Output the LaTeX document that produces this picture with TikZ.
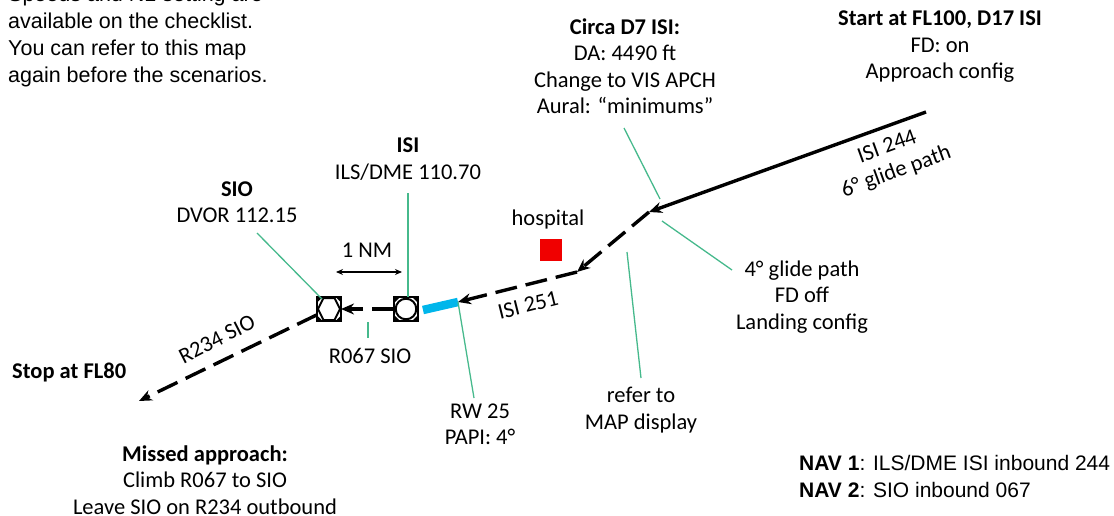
\documentclass[tikz,border=0pt]{standalone}
\usepackage{fontspec}
\setmainfont{Carlito}
\newfontfamily\arialf{Liberation Sans}
\usetikzlibrary{arrows.meta}
\definecolor{leadgreen}{RGB}{70,185,140}
\definecolor{rwcyan}{RGB}{0,182,235}
\definecolor{hosred}{RGB}{240,0,0}
\begin{document}
\begin{tikzpicture}[x=1pt,y=-1pt,
  lbl/.style={inner sep=0pt, align=center, font=\fontsize{22.5}{26.5}\selectfont},
  leader/.style={draw=leadgreen, line width=1.3pt},
  route/.style={line width=3.4pt},
  rdash/.style={route, dash pattern=on 22pt off 9pt},
  tip/.style={-{Stealth[length=13pt,width=11pt]}},
  navbox/.style={minimum size=24pt, inner sep=0pt, outer sep=0pt},
  ilsbox/.pic={
    \draw[line width=2.2pt] (-12,-12) rectangle (12,12);
    \draw[line width=2pt] (0,0) circle (10.3pt);
    \foreach \sx/\sy in {1/1,1/-1,-1/1,-1/-1}
      \fill (\sx*12,\sy*12) -- (\sx*6,\sy*12) -- (\sx*12,\sy*6) -- cycle;
  },
  vorbox/.pic={
    \draw[line width=2.2pt] (-12,-12) rectangle (12,12);
    \draw[line width=2pt] (-11,0) -- (-5.5,-11) -- (5.5,-11) -- (11,0) -- (5.5,11) -- (-5.5,11) -- cycle;
    \foreach \sx/\sy in {1/1,1/-1,-1/1,-1/-1}
      \fill (\sx*12,\sy*12) -- (\sx*6.5,\sy*12) -- (\sx*12,\sy*6.5) -- cycle;
  },
]
\useasboundingbox (0,0) rectangle (1114,516);

% top-left note (first line cut by the page edge)
\node[inner sep=0pt, align=left, anchor=west, font=\arialf\fontsize{21.5}{27}\selectfont] (note) at (8,36.5)
  {Speeds and N1 setting are\\available on the checklist.\\You can refer to this map\\again before the scenarios.};

% route points
\coordinate (start) at (926,112);
\coordinate (p1) at (649,212);
\coordinate (p2) at (577,272);
\coordinate (rwE) at (458,302);
\coordinate (rwW) at (423,310);
\coordinate (stopend) at (139,401);

% navaids
\node[navbox] (isi) at (406,309) {};
\node[navbox] (sio) at (329,309) {};
\pic at (isi) {ilsbox};
\pic at (sio) {vorbox};

% runway
\draw[rwcyan, line width=8.5pt] (rwW) -- (rwE);

% approach path
\draw[route,tip] (start) -- (p1);
\draw[rdash,tip] (p1) -- (p2);
\draw[rdash,tip] (p2) -- (rwE);
\draw[rdash,tip] (isi.west) -- (sio.east);
\draw[rdash,tip] (sio) -- (stopend);

% 1 NM
\coordinate (nmL) at (336,272);
\coordinate (nmR) at (402,272);
\draw[line width=1.2pt, {Stealth[length=7pt,width=6pt]}-{Stealth[length=7pt,width=6pt]}] (nmL) -- (nmR);
\node[lbl] (nm) at (367,250) {1 NM};

% hospital
\node[lbl] (hosp) at (548,220) {hospital};
\node[fill=hosred, minimum size=22pt, inner sep=0pt] (hsq) at (551,249.5) {};

% labels
\node[lbl] (circa) at (625,66) {\textbf{Circa D7 ISI:}\\DA: 4490 ft\\Change to VIS APCH\\Aural: “minimums”};
\node[lbl] (startl) at (940,47) {\textbf{Start at FL100, D17 ISI}\\FD: on\\Approach config};
\node[lbl, rotate=20] (isi244) at (892,160) {ISI 244\\6° glide path};
\node[lbl] (siol) at (237,202) {\textbf{SIO}\\DVOR 112.15};
\node[lbl] (isil) at (408,159) {\textbf{ISI}\\ILS/DME 110.70};
\node[lbl, rotate=14] (isi251) at (528,305) {ISI 251};
\node[lbl, rotate=27] (r234) at (217,339) {R234 SIO};
\node[lbl, anchor=west] (stop) at (12,372) {\textbf{Stop at FL80}};
\node[lbl] (r067) at (370,356) {R067 SIO};
\node[lbl] (rw25) at (480,424.5) {RW 25\\PAPI: 4°};
\node[lbl] (refer) at (641,410) {refer to\\MAP display};
\node[lbl] (four) at (802,297) {4° glide path\\FD off\\Landing config};
\node[lbl] (missed) at (205,480) {\textbf{Missed approach:}\\Climb R067 to SIO\\Leave SIO on R234 outbound};
\node[inner sep=0pt, align=left, anchor=west, font=\arialf\fontsize{21}{27}\selectfont] (nav) at (799,476)
  {\textbf{NAV 1}: ILS/DME ISI inbound 244\\\textbf{NAV 2}: SIO inbound 067};

% leader lines
\coordinate (lsio) at (257,233);
\coordinate (lsioE) at (322,299);
\draw[leader] (lsio) -- (lsioE);
\coordinate (lisi) at (408,193);
\draw[leader] (lisi) -- (isi.north -| lisi);
\coordinate (lr1) at (368,322);
\coordinate (lr2) at (368,338);
\draw[leader] (lr1) -- (lr2);
\coordinate (lc1) at (624,128);
\coordinate (lc2) at (660,199);
\draw[leader] (lc1) -- (lc2);
\coordinate (lf1) at (662,221);
\coordinate (lf2) at (732,270);
\draw[leader] (lf1) -- (lf2);
\coordinate (lm1) at (627,252);
\coordinate (lm2) at (641,378);
\draw[leader] (lm1) -- (lm2);
\coordinate (lw2) at (474,398);
\draw[leader] (rwE) -- (lw2);
\end{tikzpicture}
\end{document}
